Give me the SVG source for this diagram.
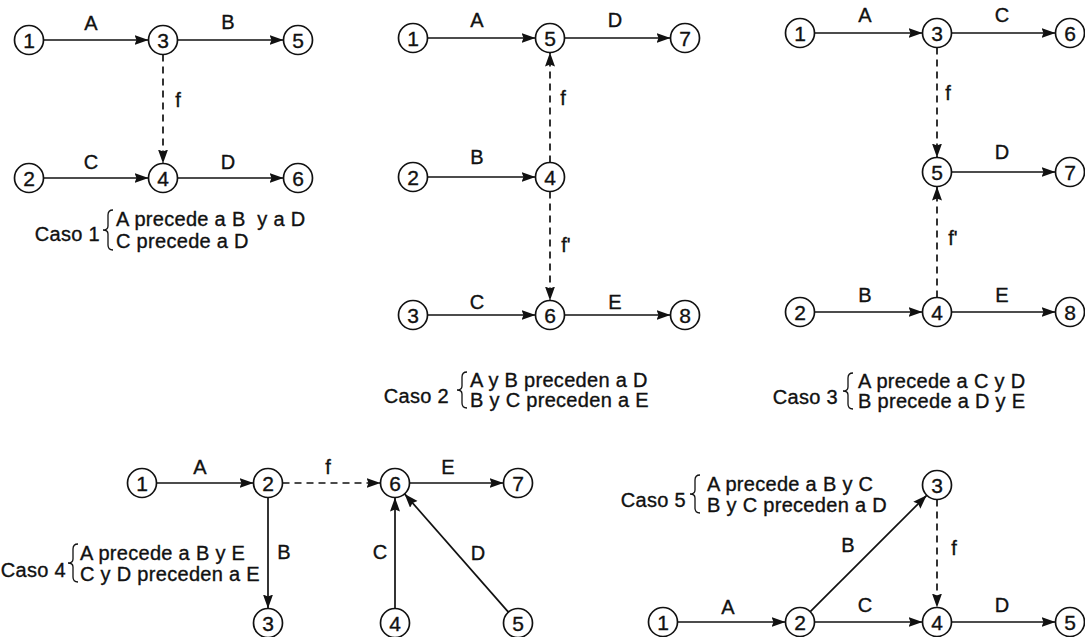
<svg xmlns="http://www.w3.org/2000/svg" width="1085" height="637" viewBox="0 0 1085 637">
<style>
text{font-family:"Liberation Sans",Arial,Helvetica,sans-serif;fill:#111;stroke:#111;stroke-width:0.35}
.n circle{fill:#fff;stroke:#111;stroke-width:1.7}
.n text{font-size:21px;text-anchor:middle}
.lbl{font-size:20px;text-anchor:middle}
.cap{font-size:20px;letter-spacing:0.3px}
.cn{font-size:20px;letter-spacing:0.3px;text-anchor:end}
.e{stroke:#111;stroke-width:1.7;fill:none;marker-end:url(#ah)}
.d{stroke-dasharray:7 5}
.br{stroke:#111;stroke-width:1.3;fill:none}
</style>
<defs>
<marker id="ah" markerUnits="userSpaceOnUse" markerWidth="15" markerHeight="11" refX="14" refY="5" orient="auto">
<path d="M0,0 L14,5 L0,10 L2,5 z" fill="#111"/>
</marker>
</defs>
<rect width="1085" height="637" fill="#fff"/>

<g id="connectors">
<!-- Caso 1 -->
<line class="e" x1="43.5" y1="40" x2="148.5" y2="40"/>
<line class="e" x1="177.5" y1="40" x2="283.5" y2="40"/>
<line class="e d" x1="163" y1="54.5" x2="163" y2="163.5"/>
<line class="e" x1="43.5" y1="178" x2="148.5" y2="178"/>
<line class="e" x1="177.5" y1="178" x2="283.5" y2="178"/>
<!-- Caso 2 -->
<line class="e" x1="427.5" y1="38" x2="535.5" y2="38"/>
<line class="e" x1="564.5" y1="38" x2="670.5" y2="38"/>
<line class="e d" x1="550" y1="162.5" x2="550" y2="52.5"/>
<line class="e" x1="427.5" y1="177" x2="535.5" y2="177"/>
<line class="e d" x1="550" y1="191.5" x2="550" y2="300.5"/>
<line class="e" x1="427.5" y1="315" x2="535.5" y2="315"/>
<line class="e" x1="564.5" y1="315" x2="670.5" y2="315"/>
<!-- Caso 3 -->
<line class="e" x1="814.5" y1="33" x2="922.5" y2="33"/>
<line class="e" x1="951.5" y1="33" x2="1055.5" y2="33"/>
<line class="e d" x1="937" y1="47.5" x2="937" y2="157.5"/>
<line class="e" x1="951.5" y1="172" x2="1055.5" y2="172"/>
<line class="e d" x1="937" y1="297.5" x2="937" y2="186.5"/>
<line class="e" x1="814.5" y1="312" x2="922.5" y2="312"/>
<line class="e" x1="951.5" y1="312" x2="1055.5" y2="312"/>
<!-- Caso 4 -->
<line class="e" x1="156.5" y1="483" x2="253.5" y2="483"/>
<line class="e d" x1="282.5" y1="483" x2="380.5" y2="483"/>
<line class="e" x1="409.5" y1="483" x2="503.5" y2="483"/>
<line class="e" x1="268" y1="497.5" x2="268" y2="608.5"/>
<line class="e" x1="395" y1="608.5" x2="395" y2="497.5"/>
<line class="e" x1="508.4" y1="612.1" x2="404.6" y2="493.9"/>
<!-- Caso 5 -->
<line class="e" x1="677.5" y1="622" x2="785.5" y2="622"/>
<line class="e" x1="810.3" y1="611.7" x2="926.7" y2="495.3"/>
<line class="e" x1="814.5" y1="622" x2="922.5" y2="622"/>
<line class="e d" x1="937" y1="499.5" x2="937" y2="607.5"/>
<line class="e" x1="951.5" y1="622" x2="1055.5" y2="622"/>
</g>

<g id="edge-labels">
<text class="lbl" x="91" y="30">A</text>
<text class="lbl" x="228" y="29">B</text>
<text class="lbl" x="178" y="107">f</text>
<text class="lbl" x="91" y="169">C</text>
<text class="lbl" x="228" y="169">D</text>

<text class="lbl" x="477" y="27">A</text>
<text class="lbl" x="615" y="27">D</text>
<text class="lbl" x="563" y="105">f</text>
<text class="lbl" x="477" y="164">B</text>
<text class="lbl" x="566" y="252">f'</text>
<text class="lbl" x="477" y="309">C</text>
<text class="lbl" x="615" y="309">E</text>

<text class="lbl" x="865" y="22">A</text>
<text class="lbl" x="1002" y="22">C</text>
<text class="lbl" x="948" y="100">f</text>
<text class="lbl" x="1002" y="159">D</text>
<text class="lbl" x="953" y="245">f'</text>
<text class="lbl" x="865" y="302">B</text>
<text class="lbl" x="1002" y="302">E</text>

<text class="lbl" x="200" y="474">A</text>
<text class="lbl" x="328" y="474">f</text>
<text class="lbl" x="448" y="474">E</text>
<text class="lbl" x="284" y="559">B</text>
<text class="lbl" x="380" y="559">C</text>
<text class="lbl" x="478" y="560">D</text>

<text class="lbl" x="728" y="614">A</text>
<text class="lbl" x="848" y="552">B</text>
<text class="lbl" x="865" y="612">C</text>
<text class="lbl" x="1002" y="612">D</text>
<text class="lbl" x="954" y="555">f</text>
</g>

<!-- Caso 1 nodes -->
<g id="c1-n1" class="n"><circle cx="29" cy="40" r="14.5"/><text x="29" y="47.5">1</text></g>
<g id="c1-n3" class="n"><circle cx="163" cy="40" r="14.5"/><text x="163" y="47.5">3</text></g>
<g id="c1-n5" class="n"><circle cx="298" cy="40" r="14.5"/><text x="298" y="47.5">5</text></g>
<g id="c1-n2" class="n"><circle cx="29" cy="178" r="14.5"/><text x="29" y="185.5">2</text></g>
<g id="c1-n4" class="n"><circle cx="163" cy="178" r="14.5"/><text x="163" y="185.5">4</text></g>
<g id="c1-n6" class="n"><circle cx="298" cy="178" r="14.5"/><text x="298" y="185.5">6</text></g>

<!-- Caso 2 nodes -->
<g id="c2-n1" class="n"><circle cx="413" cy="38" r="14.5"/><text x="413" y="45.5">1</text></g>
<g id="c2-n5" class="n"><circle cx="550" cy="38" r="14.5"/><text x="550" y="45.5">5</text></g>
<g id="c2-n7" class="n"><circle cx="685" cy="38" r="14.5"/><text x="685" y="45.5">7</text></g>
<g id="c2-n2" class="n"><circle cx="413" cy="177" r="14.5"/><text x="413" y="184.5">2</text></g>
<g id="c2-n4" class="n"><circle cx="550" cy="177" r="14.5"/><text x="550" y="184.5">4</text></g>
<g id="c2-n3" class="n"><circle cx="413" cy="315" r="14.5"/><text x="413" y="322.5">3</text></g>
<g id="c2-n6" class="n"><circle cx="550" cy="315" r="14.5"/><text x="550" y="322.5">6</text></g>
<g id="c2-n8" class="n"><circle cx="685" cy="315" r="14.5"/><text x="685" y="322.5">8</text></g>

<!-- Caso 3 nodes -->
<g id="c3-n1" class="n"><circle cx="800" cy="33" r="14.5"/><text x="800" y="40.5">1</text></g>
<g id="c3-n3" class="n"><circle cx="937" cy="33" r="14.5"/><text x="937" y="40.5">3</text></g>
<g id="c3-n6" class="n"><circle cx="1070" cy="33" r="14.5"/><text x="1070" y="40.5">6</text></g>
<g id="c3-n5" class="n"><circle cx="937" cy="172" r="14.5"/><text x="937" y="179.5">5</text></g>
<g id="c3-n7" class="n"><circle cx="1070" cy="172" r="14.5"/><text x="1070" y="179.5">7</text></g>
<g id="c3-n2" class="n"><circle cx="800" cy="312" r="14.5"/><text x="800" y="319.5">2</text></g>
<g id="c3-n4" class="n"><circle cx="937" cy="312" r="14.5"/><text x="937" y="319.5">4</text></g>
<g id="c3-n8" class="n"><circle cx="1070" cy="312" r="14.5"/><text x="1070" y="319.5">8</text></g>

<!-- Caso 4 nodes -->
<g id="c4-n1" class="n"><circle cx="142" cy="483" r="14.5"/><text x="142" y="490.5">1</text></g>
<g id="c4-n2" class="n"><circle cx="268" cy="483" r="14.5"/><text x="268" y="490.5">2</text></g>
<g id="c4-n6" class="n"><circle cx="395" cy="483" r="14.5"/><text x="395" y="490.5">6</text></g>
<g id="c4-n7" class="n"><circle cx="518" cy="483" r="14.5"/><text x="518" y="490.5">7</text></g>
<g id="c4-n3" class="n"><circle cx="268" cy="623" r="14.5"/><text x="268" y="630.5">3</text></g>
<g id="c4-n4" class="n"><circle cx="395" cy="623" r="14.5"/><text x="395" y="630.5">4</text></g>
<g id="c4-n5" class="n"><circle cx="518" cy="623" r="14.5"/><text x="518" y="630.5">5</text></g>

<!-- Caso 5 nodes -->
<g id="c5-n1" class="n"><circle cx="663" cy="622" r="14.5"/><text x="663" y="629.5">1</text></g>
<g id="c5-n2" class="n"><circle cx="800" cy="622" r="14.5"/><text x="800" y="629.5">2</text></g>
<g id="c5-n3" class="n"><circle cx="937" cy="485" r="14.5"/><text x="937" y="492.5">3</text></g>
<g id="c5-n4" class="n"><circle cx="937" cy="622" r="14.5"/><text x="937" y="629.5">4</text></g>
<g id="c5-n5" class="n"><circle cx="1070" cy="622" r="14.5"/><text x="1070" y="629.5">5</text></g>

<!-- Captions -->
<g id="caso1">
<text class="cn" x="100" y="241">Caso 1</text>
<path class="br" d="M113,210 Q108,210 108,215 L108,226 Q108,230 103,230 Q108,230 108,234 L108,245 Q108,250 113,250"/>
<text class="cap" x="116" y="226" xml:space="preserve">A precede a B  y a D</text>
<text class="cap" x="116" y="248">C precede a D</text>
</g>
<g id="caso2">
<text class="cn" x="449" y="403">Caso 2</text>
<path class="br" d="M467,372 Q462,372 462,377 L462,386 Q462,390 457,390 Q462,390 462,394 L462,403 Q462,408 467,408"/>
<text class="cap" x="470" y="387">A y B preceden a D</text>
<text class="cap" x="470" y="407">B y C preceden a E</text>
</g>
<g id="caso3">
<text class="cn" x="838" y="404">Caso 3</text>
<path class="br" d="M853,373 Q848,373 848,378 L848,387 Q848,391 843,391 Q848,391 848,395 L848,404 Q848,409 853,409"/>
<text class="cap" x="858" y="388">A precede a C y D</text>
<text class="cap" x="858" y="408">B precede a D y E</text>
</g>
<g id="caso4">
<text class="cn" x="66" y="577">Caso 4</text>
<path class="br" d="M78,544 Q73,544 73,549 L73,559 Q73,563 68,563 Q73,563 73,567 L73,577 Q73,582 78,582"/>
<text class="cap" x="80" y="560">A precede a B y E</text>
<text class="cap" x="80" y="581">C y D preceden a E</text>
</g>
<g id="caso5">
<text class="cn" x="686" y="507">Caso 5</text>
<path class="br" d="M700,475 Q695,475 695,480 L695,490 Q695,494 690,494 Q695,494 695,498 L695,508 Q695,513 700,513"/>
<text class="cap" x="707" y="491">A precede a B y C</text>
<text class="cap" x="707" y="512">B y C preceden a D</text>
</g>
</svg>
